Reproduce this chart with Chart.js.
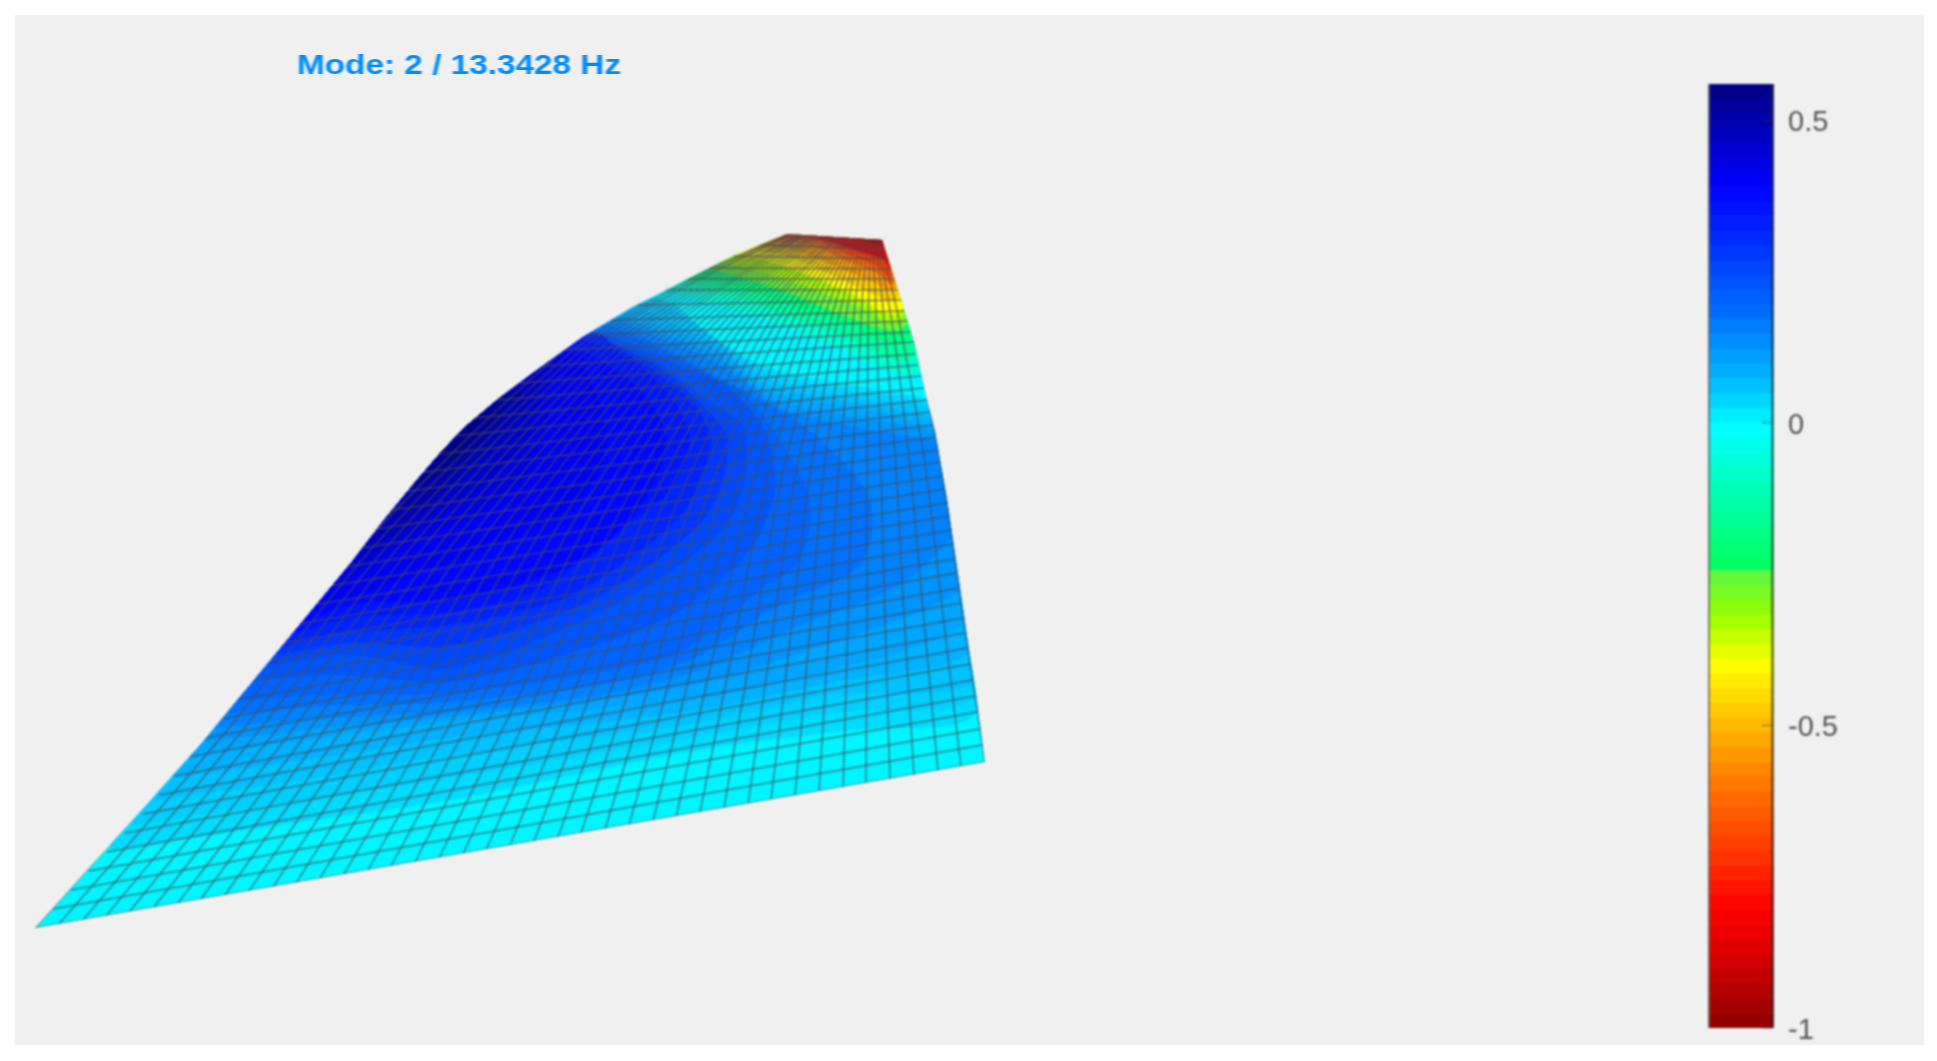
<!DOCTYPE html>
<html>
<head>
<meta charset="utf-8">
<title>Mode 2</title>
<script src="https://cdn.jsdelivr.net/npm/chart.js@4"></script>
<style>
body { margin: 0; background: #fff; overflow: hidden; }
#panel { position: absolute; left: 15px; top: 15px; width: 1909px; height: 1030px; background: #f0f0f0; }
#surface { position: absolute; left: 0; top: 0; filter: blur(1px); }
#bar { position: absolute; left: 1708px; top: 84px; filter: blur(0.8px); }
#title { position: absolute; left: 297px; top: 49px; font: bold 28px "Liberation Sans", sans-serif; color: #008cff;
  transform: scaleX(1.19); transform-origin: left top; filter: blur(0.7px); white-space: nowrap; }
</style>
</head>
<body>
<div id="panel"></div>
<canvas id="surface" width="1300" height="1061"></canvas>
<canvas id="bar" width="192" height="964"></canvas>
<div id="title">Mode: 2 / 13.3428 Hz</div>
<script>
// all numbers below were estimated by eye from the picture, nothing is measured from source data

// colour bar
const barEdges = [-1,-.976,-.951,-.927,-.902,-.878,-.854,-.829,-.805,-.78,-.756,-.732,-.707,-.683,-.659,-.634,-.61,-.585,-.561,-.537,-.512,-.488,-.463,-.439,-.415,-.39,-.366,-.341,-.317,-.293,-.268,-.244,-.22,-.195,-.171,-.146,-.122,-.098,-.073,-.049,-.024,0,.024,.049,.073,.098,.122,.146,.171,.195,.22,.244,.268,.293,.317,.341,.366,.39,.415,.439,.463,.488,.512,.537,.56]
const barTicks = [0.5, 0, -0.5, -1]
const stopValues = [-1,-.876,-.8,-.72,-.613,-.507,-.4,-.354,-.318,-.243,-.233,-.128,-.01,.07,.18,.29,.35,.39,.56]
const stopColors = [[140,0,0],[220,0,0],[255,0,0],[255,50,0],[255,110,0],[255,180,0],[255,255,0],[200,255,0],[150,255,0],[90,245,70],[0,255,100],[0,255,170],[0,255,255],[0,185,255],[0,110,255],[0,50,255],[0,20,255],[0,0,255],[0,0,128]]

// outline of the deformed plate
const outlineX = [35,90,142,202,235,279,351,384,417,443,465,497,533,583,633,680,733,787,882,901,914,927,935,947,957,969,976,985]
const outlineY = [928,867,810,743,703,650,563,520,480,450,427,400,373,337,307,283,256,234,240,300,343,400,432,500,568,650,692,762]
const surfaceBase = 0

// value contours around the positive peak on the left edge
const blueLevels = [.03,.045,.06,.08,.10,.125,.15,.175,.20,.225,.25,.285,.32,.35,.38,.405,.43,.455,.48,.505,.53,.55]
const blueArcs = [
  [[110,850],[280,825],[450,800],[700,750],[850,730],[975,715],[1010,600],[1010,420],[925,398],[850,385],[767,367],[700,328],[660,296],[150,300]],
  [[132,825],[290,802],[450,778],[690,738],[840,712],[975,699],[1010,600],[1010,430],[925,402],[855,391],[767,372],[710,334],[655,299],[150,300]],
  [[155,800],[300,780],[450,755],[683,725],[833,695],[975,683],[1010,600],[1010,440],[925,407],[860,398],[767,378],[717,340],[650,303],[150,300]],
  [[170,778],[310,759],[450,738],[683,712],[833,682],[968,654],[1010,570],[1010,450],[927,416],[860,403],[768,385],[717,345],[652,314],[630,309],[150,300]],
  [[187,757],[320,738],[450,722],[683,700],[833,670],[963,625],[1010,540],[1010,460],[929,425],[860,408],[770,392],[717,350],[655,325],[622,315],[150,300]],
  [[200,742],[325,728],[450,717],[690,685],[815,648],[962,590],[1010,520],[1010,470],[937,432],[860,418],[775,400],[718,357],[660,332],[617,318],[150,300]],
  [[212,728],[330,718],[450,712],[600,695],[700,670],[800,625],[900,585],[960,530],[1000,490],[945,445],[860,428],[780,408],[720,365],[665,340],[611,321],[150,300]],
  [[225,714],[330,706],[450,702],[600,684],[690,660],[780,605],[860,565],[870,500],[815,435],[765,402],[720,378],[665,348],[603,325],[150,300]],
  [[237,700],[330,695],[450,693],[600,672],[683,650],[760,590],[800,560],[810,500],[780,440],[745,395],[700,370],[640,340],[595,330],[150,300]],
  [[250,680],[340,675],[450,682],[590,647],[682,610],[750,550],[775,490],[765,430],[725,385],[680,365],[630,343],[590,333],[150,300]],
  [[262,665],[350,655],[450,668],[583,620],[680,565],[735,510],[745,430],[700,395],[655,360],[620,345],[585,337],[150,300]],
  [[264,658],[350,643],[450,646],[570,610],[650,565],[710,510],[728,440],[700,403],[660,368],[620,347],[590,335],[150,300]],
  [[265,650],[350,632],[450,625],[560,600],[620,565],[683,513],[710,450],[700,413],[660,375],[620,350],[595,333],[150,300]],
  [[277,640],[350,618],[450,612],[540,590],[605,540],[670,490],[690,440],[670,395],[630,360],[580,340],[150,300]],
  [[290,630],[350,605],[450,600],[517,585],[583,560],[630,520],[660,470],[665,430],[640,390],[600,360],[570,348],[150,300]],
  [[305,612],[385,585],[490,548],[560,515],[600,470],[605,430],[595,390],[568,352],[150,300]],
  [[315,600],[383,558],[480,510],[530,470],[545,430],[550,390],[560,355],[150,300]],
  [[330,580],[390,545],[470,495],[520,450],[538,410],[540,385],[548,360],[150,300]],
  [[345,560],[400,530],[460,480],[510,430],[530,390],[535,372],[150,300]],
  [[370,525],[420,505],[475,455],[510,410],[520,385],[150,300]],
  [[395,495],[440,475],[490,430],[510,390],[505,393],[150,300]],
  [[430,450],[450,460],[480,420],[480,410],[150,300]]
]

// value contours around the negative corner at the top right
const capLevels = [0,-.07,-.14,-.2,-.26,-.33,-.4,-.47,-.54,-.62,-.7,-.78,-.86,-.95]
const capArcs = [
  [[655,297],[700,313],[767,340],[833,358],[867,370],[920,392],[1000,200],[800,150],[600,200]],
  [[668,289],[710,302],[767,320],[833,345],[917,372],[1000,200],[800,150],[600,200]],
  [[680,282],[720,292],[767,308],[833,332],[912,358],[1000,200],[800,150],[600,200]],
  [[690,276],[730,285],[767,297],[833,320],[907,340],[1000,200],[800,150],[600,200]],
  [[705,268],[750,280],[800,297],[850,318],[903,328],[1000,200],[800,150],[600,200]],
  [[720,262],[760,272],[810,288],[855,305],[899,320],[1000,200],[800,150],[600,200]],
  [[733,256],[770,262],[815,278],[855,296],[897,313],[1000,200],[800,150],[600,200]],
  [[745,250],[785,255],[825,272],[865,290],[895,300],[1000,200],[800,150],[650,190]],
  [[755,246],[795,250],[835,266],[875,283],[893,290],[1000,200],[800,150],[650,190]],
  [[768,242],[810,245],[845,260],[880,275],[892,284],[1000,200],[800,150],[650,190]],
  [[780,238],[820,242],[850,255],[880,268],[890,277],[1000,200],[800,150],[700,180]],
  [[800,236],[830,242],[860,252],[885,260],[890,268],[1000,200],[800,150],[700,180]],
  [[815,236],[840,245],[880,258],[890,262],[1000,200],[800,150],[700,180]],
  [[830,234],[860,240],[890,245],[1000,200],[800,150],[700,180]]
]

// mesh rows, straight from the left edge to the right edge
const rowLeftX = [35,53,71,89,107,125,143,159,174,189,204,220,236,251,267,283,298,313,329,344,360,375,392,408,424,440,455,474,498,520,543,565,586,611,637,666,688,710,733,760,787]
const rowLeftY = [928,909,890,871,852,833,814,795,776,757,738,719,700,681,662,643,624,605,586,567,548,529,510,491,472,454,436,418,400,383,366,350,335,320,305,290,279,268,256,245,234]
const rowRightX = [985,982,980,977,975,973,970,968,965,963,961,959,956,954,953,951,949,947,945,943,940,938,936,933,930,927,924,921,918,915,914,911,908,905,901,898,895,892,888,885,882]
const rowRightY = [762,745,729,712,696,680,664,648,633,618,603,588,573,559,544,530,516,503,489,476,462,450,437,425,412,400,388,376,365,354,342,332,321,311,300,290,279,269,259,249,240]

// mesh columns, one array per station going up the plate
const colX0 = [35,59,83,106,130,154,178,201,225,249,273,296,320,344,368,391,415,439,463,486,510,534,558,581,605,629,653,676,700,724,748,771,795,819,843,866,890,914,938,961,985]
const colY0 = [928,924,920,916,911,907,903,899,895,891,887,883,878,874,870,866,862,858,854,850,845,841,837,833,829,825,821,817,812,808,804,800,796,792,788,784,779,775,771,767,762]
const colX1 = [204,223,242,261,280,299,318,336,355,374,393,412,431,450,469,488,507,526,545,564,583,601,620,639,658,677,696,715,734,753,772,791,810,829,848,867,885,904,923,942,961]
const colY1 = [738,735,731,728,725,721,718,714,711,708,704,701,698,694,691,687,684,681,677,674,670,667,664,660,657,654,650,647,643,640,637,633,630,627,623,620,616,613,610,606,603]
const colX2 = [360,374,389,403,418,432,447,461,476,490,505,519,534,548,563,577,592,606,621,635,650,664,678,693,707,722,736,751,765,780,794,809,823,838,852,867,881,896,910,925,940]
const colY2 = [548,546,544,542,539,537,535,533,531,529,526,524,522,520,518,516,514,511,509,507,505,503,501,499,496,494,492,490,488,486,484,481,479,477,475,473,471,468,466,464,462]
const colX3 = [562,571,580,588,597,606,615,623,632,641,650,658,667,676,685,693,702,711,720,728,737,746,755,763,772,781,790,798,807,816,825,833,842,851,860,868,877,886,895,903,914]
const colY3 = [352,352,351,351,351,351,350,350,350,350,349,349,349,348,348,348,348,347,347,347,346,346,346,346,345,345,345,345,344,344,344,343,343,343,343,342,342,342,342,341,341]
const colX4 = [665,671,677,682,688,694,700,706,712,717,723,729,735,741,747,752,758,764,770,776,782,787,793,799,805,811,816,822,828,834,840,846,851,857,863,869,875,881,886,892,898]
const colY4 = [290,290,290,290,290,290,290,290,290,290,289,289,289,289,289,289,289,289,289,289,289,289,289,289,289,289,289,289,289,289,288,288,288,288,288,288,288,288,288,288,288]
const colX5 = [787,789,792,794,797,799,801,804,806,808,811,813,816,818,820,823,825,827,830,832,835,837,839,842,844,846,849,851,854,856,858,861,863,865,868,870,872,875,877,879,882]
const colY5 = [234,234,234,234,235,235,235,235,235,235,236,236,236,236,236,236,236,237,237,237,237,237,237,237,238,238,238,238,238,238,239,239,239,239,239,239,239,240,240,240,240]

const allColX = [colX0,colX1,colX2,colX3,colX4,colX5]
const allColY = [colY0,colY1,colY2,colY3,colY4,colY5]

// jet style lookup, same one for the plate and the bar
function colorAt(v){
    let i = 0
    while(i < stopValues.length-2 && v > stopValues[i+1]) i++
    let f = (v-stopValues[i])/(stopValues[i+1]-stopValues[i])
    f = Math.max(0,Math.min(1,f))
    const a = stopColors[i], b = stopColors[i+1]
    return "rgb("+Math.round(a[0]+(b[0]-a[0])*f)+","+Math.round(a[1]+(b[1]-a[1])*f)+","+Math.round(a[2]+(b[2]-a[2])*f)+")"
}

function shape(points,color,tension){
    return {
        data: points.map(p => ({x:p[0],y:p[1]})),
        fill: "shape",
        backgroundColor: color,
        borderWidth: 0,
        tension: tension,
        pointRadius: 0
    }
}
function meshLine(points,tension){
    return {
        data: points,
        fill: false,
        borderColor: "rgba(70,75,85,0.7)",
        borderWidth: 1.5,
        tension: tension,
        pointRadius: 0
    }
}

const outlinePoints = outlineX.map((x,i) => [x,outlineY[i]])

// painted in this order, reversed below because chart.js draws the first dataset last
var layers = []
layers.push(shape(outlinePoints,colorAt(surfaceBase),0))
blueArcs.forEach((arc,k) => layers.push(shape(arc,colorAt(blueLevels[k]),0.3)))
capArcs.forEach((arc,k) => layers.push(shape(arc,colorAt(capLevels[k]),0.3)))
rowLeftX.forEach((x,j) => layers.push(meshLine([{x:x,y:rowLeftY[j]},{x:rowRightX[j],y:rowRightY[j]}],0)))
colX0.forEach((x,i) => layers.push(meshLine(allColX.map((xs,s) => ({x:xs[i],y:allColY[s][i]})),0.3)))

// keep the contours inside the plate
const clipToPlate = {
    id: "clipToPlate",
    beforeDatasetsDraw(chart){
        const ctx = chart.ctx
        ctx.save()
        ctx.beginPath()
        outlineX.forEach((x,i) => {
            const px = chart.scales.x.getPixelForValue(x)
            const py = chart.scales.y.getPixelForValue(outlineY[i])
            if(i == 0) ctx.moveTo(px,py); else ctx.lineTo(px,py)
        })
        ctx.closePath()
        ctx.clip()
    },
    afterDatasetsDraw(chart){
        chart.ctx.restore()
    }
}

new Chart(document.getElementById("surface").getContext("2d"),{
    type: "line",
    data: { datasets: layers.reverse() },
    options: {
        responsive: false,
        animation: false,
        parsing: true,
        layout: { padding: 0 },
        plugins: { legend: {display:false}, tooltip: {enabled:false} },
        scales: {
            x: { type:"linear", min:0, max:1300, display:false },
            y: { type:"linear", min:0, max:1061, reverse:true, display:false }
        }
    },
    plugins: [clipToPlate]
})

// colour bar, one floating bar per band
var bands = []
for (let k = 0; k < barEdges.length-1; k++) {
    bands.push({
        data: [[barEdges[k],barEdges[k+1]]],
        backgroundColor: colorAt((barEdges[k]+barEdges[k+1])/2),
        borderWidth: 0,
        barPercentage: 1,
        categoryPercentage: 1,
        grouped: false
    })
}

const barFrame = {
    id: "barFrame",
    afterDatasetsDraw(chart){
        const ctx = chart.ctx, a = chart.chartArea, y = chart.scales.y
        ctx.save()
        ctx.fillStyle = "rgba(110,110,110,0.8)"
        ctx.fillRect(a.left,a.top,2,a.bottom-a.top)
        ctx.fillStyle = "rgba(40,50,50,0.6)"
        ctx.fillRect(a.right-3,a.top,3,a.bottom-a.top)
        barTicks.forEach(t => ctx.fillRect(a.right-12,y.getPixelForValue(t)-0.5,10,1))
        ctx.restore()
    }
}

new Chart(document.getElementById("bar").getContext("2d"),{
    type: "bar",
    data: { labels: ["band"], datasets: bands },
    options: {
        responsive: false,
        animation: false,
        layout: { padding: {left:0,top:0,right:0,bottom:20} },
        plugins: { legend: {display:false}, tooltip: {enabled:false} },
        scales: {
            x: { display:false },
            y: {
                position: "right",
                min: -1,
                max: 0.56,
                afterFit(axis){
                    axis.width = 126
                    axis.paddingTop = 0
                    axis.paddingBottom = 0
                },
                afterBuildTicks(axis){ axis.ticks = barTicks.map(v => ({value:v})) },
                grid: { display:false },
                border: { display:false },
                ticks: {
                    padding: 6,
                    labelOffset: 3,
                    color: "#555",
                    font: { family:"Liberation Sans", size:29 },
                    callback: v => String(v)
                }
            }
        }
    },
    plugins: [barFrame]
})
</script>
</body>
</html>
